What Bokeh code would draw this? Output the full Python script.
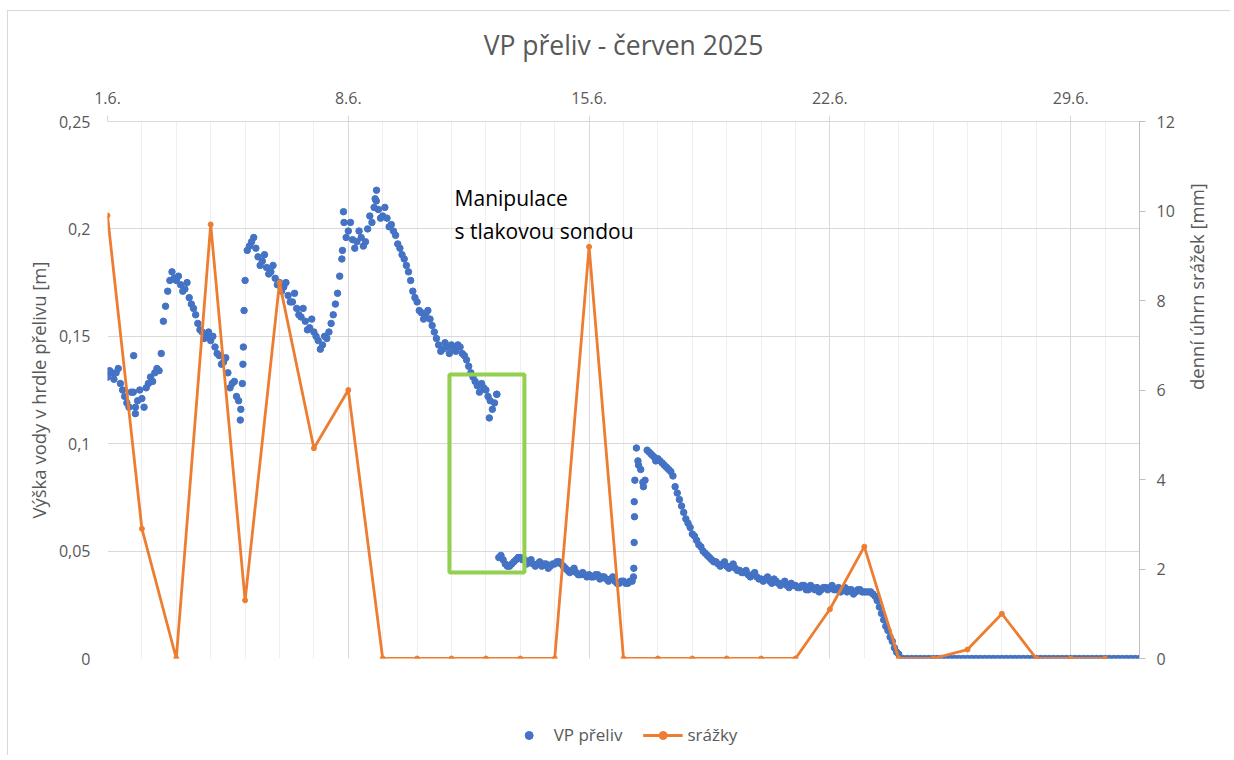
import math
from bokeh.plotting import figure
from bokeh.layouts import column
from bokeh.models import (Range1d, LinearAxis, FixedTicker, CustomJSTickFormatter,
                          Legend, LegendItem, BoxAnnotation, Label)
from bokeh.embed import file_html
from bokeh.resources import INLINE

# ---------------- data ----------------
# daily rainfall (mm), days 1..30 of June 2025
rain_days = list(range(1, 31))
rain_mm = [9.9, 2.9, 0.0, 9.7, 1.3, 8.4, 4.7, 6.0, 0.0, 0.0,
           0.0, 0.0, 0.0, 0.0, 9.2, 0.0, 0.0, 0.0, 0.0, 0.0,
           0.0, 1.1, 2.5, 0.0, 0.0, 0.2, 1.0, 0.0, 0.0, 0.0]

# water level in the weir throat (m), readings every 3 hours from 1.6. 00:00
vp_step_days = 0.125
vp_values = [
    0.131, 0.133, 0.133, 0.128, 0.122, 0.117, 0.124, 0.120,   # 1.6.
    0.121, 0.126, 0.131, 0.133, 0.134, 0.157, 0.171, 0.180,   # 2.6.
    0.176, 0.174, 0.172, 0.168, 0.163, 0.156, 0.152, 0.150,   # 3.6.
    0.148, 0.145, 0.141, 0.138, 0.133, 0.128, 0.122, 0.116,   # 4.6.
    0.176, 0.192, 0.196, 0.187, 0.185, 0.182, 0.180, 0.177,   # 5.6.
    0.175, 0.173, 0.169, 0.166, 0.163, 0.159, 0.157, 0.154,   # 6.6.
    0.152, 0.148, 0.146, 0.149, 0.156, 0.165, 0.178, 0.203,   # 7.6.
    0.199, 0.195, 0.194, 0.196, 0.194, 0.206, 0.210, 0.209,   # 8.6.
    0.206, 0.205, 0.202, 0.197, 0.191, 0.186, 0.180, 0.171,   # 9.6.
    0.166, 0.161, 0.160, 0.158, 0.152, 0.146, 0.144, 0.145,   # 10.6.
    0.146, 0.143, 0.145, 0.141, 0.136, 0.131, 0.127, 0.128,   # 11.6.
    0.125, 0.120, 0.119, 0.047, 0.046, 0.043, 0.044, 0.046,   # 12.6.
    0.047, 0.046, 0.045, 0.044, 0.044, 0.043, 0.044, 0.043,   # 13.6.
    0.044, 0.045, 0.043, 0.041, 0.041, 0.040, 0.039, 0.039,   # 14.6.
    0.039, 0.038, 0.039, 0.038, 0.037, 0.037, 0.036, 0.035,   # 15.6.
    0.036, 0.035, 0.036, 0.098, 0.088, 0.083, 0.096, 0.094,   # 16.6.
    0.093, 0.091, 0.089, 0.087, 0.080, 0.074, 0.068, 0.063,   # 17.6.
    0.058, 0.055, 0.052, 0.049, 0.047, 0.045, 0.044, 0.044,   # 18.6.
    0.043, 0.043, 0.042, 0.041, 0.040, 0.039, 0.039, 0.038,   # 19.6.
    0.037, 0.037, 0.036, 0.037, 0.035, 0.035, 0.034, 0.035,   # 20.6.
    0.034, 0.033, 0.034, 0.032, 0.033, 0.033, 0.032, 0.033,   # 21.6.
    0.033, 0.032, 0.033, 0.032, 0.031, 0.032, 0.031, 0.032,   # 22.6.
    0.031, 0.031, 0.030, 0.027, 0.021, 0.015, 0.010, 0.005,   # 23.6.
    0.002, 0.000, 0.000, 0.000, 0.000, 0.000, 0.000, 0.000,   # 24.6.
    0.000, 0.000, 0.000, 0.000, 0.000, 0.000, 0.000, 0.000,   # 25.6.
    0.000, 0.000, 0.000, 0.000, 0.000, 0.000, 0.000, 0.000,   # 26.6.
    0.000, 0.000, 0.000, 0.000, 0.000, 0.000, 0.000, 0.000,   # 27.6.
    0.000, 0.000, 0.000, 0.000, 0.000, 0.000, 0.000, 0.000,   # 28.6.
    0.000, 0.000, 0.000, 0.000, 0.000, 0.000, 0.000, 0.000,   # 29.6.
    0.000, 0.000, 0.000, 0.000, 0.000, 0.000, 0.000, 0.000,   # 30.6.
    0.000,                                                    # 1.7.
]
# interleaved readings (1 h 30 min after each of the above), 1.6. - 23.6.
vp_values_mid = [
    0.134, 0.130, 0.135, 0.125, 0.119, 0.124, 0.117, 0.125,   # 1.6.
    0.117, 0.128, 0.129, 0.135, 0.142, 0.164, 0.176, 0.177,   # 2.6.
    0.178, 0.171, 0.175, 0.165, 0.160, 0.153, 0.149, 0.152,   # 3.6.
    0.150, 0.142, 0.137, 0.140, 0.126, 0.129, 0.120, 0.137,   # 4.6.
    0.190, 0.194, 0.191, 0.183, 0.188, 0.179, 0.183, 0.174,   # 5.6.
    0.171, 0.175, 0.166, 0.170, 0.160, 0.163, 0.153, 0.158,   # 6.6.
    0.150, 0.144, 0.150, 0.152, 0.160, 0.170, 0.186, 0.196,   # 7.6.
    0.203, 0.191, 0.199, 0.192, 0.200, 0.203, 0.213, 0.205,   # 8.6.
    0.210, 0.201, 0.199, 0.193, 0.188, 0.183, 0.176, 0.168,   # 9.6.
    0.162, 0.158, 0.162, 0.155, 0.149, 0.143, 0.147, 0.142,   # 10.6.
    0.144, 0.146, 0.142, 0.139, 0.133, 0.129, 0.124, 0.126,   # 11.6.
    0.122, 0.116, 0.123, 0.048, 0.044, 0.043, 0.045, 0.047,   # 12.6.
    0.046, 0.044, 0.046, 0.043, 0.045, 0.044, 0.042, 0.044,   # 13.6.
    0.045, 0.044, 0.042, 0.040, 0.042, 0.039, 0.040, 0.038,   # 14.6.
    0.038, 0.039, 0.037, 0.038, 0.036, 0.038, 0.035, 0.036,   # 15.6.
    0.035, 0.036, 0.073, 0.090, 0.082, 0.097, 0.095, 0.092,   # 16.6.
    0.092, 0.090, 0.088, 0.085, 0.077, 0.071, 0.065, 0.061,   # 17.6.
    0.057, 0.053, 0.050, 0.048, 0.046, 0.045, 0.043, 0.045,   # 18.6.
    0.042, 0.044, 0.041, 0.040, 0.041, 0.038, 0.040, 0.037,   # 19.6.
    0.036, 0.038, 0.035, 0.036, 0.034, 0.036, 0.033, 0.034,   # 20.6.
    0.033, 0.034, 0.032, 0.034, 0.032, 0.031, 0.033, 0.032,   # 21.6.
    0.034, 0.032, 0.031, 0.033, 0.032, 0.030, 0.032, 0.031,   # 22.6.
    0.031, 0.031, 0.029, 0.024, 0.018, 0.013, 0.008, 0.003,   # 23.6.
]
# additional readings during fast changes (day of month, value)
vp_extra_day = [1.76, 1.81, 4.86, 4.92, 4.95, 4.97, 7.83, 7.86, 8.78, 8.82,
                12.10, 12.32, 16.29, 16.30, 16.31, 16.32, 16.33, 16.42, 16.58]
vp_extra_val = [0.141, 0.114, 0.111, 0.128, 0.145, 0.162, 0.190, 0.208, 0.214, 0.218,
                0.112, 0.123, 0.038, 0.042, 0.054, 0.066, 0.083, 0.092, 0.080]

x_ticks = [1, 8, 15, 22, 29]
left_ticks = [0, 0.05, 0.10, 0.15, 0.20, 0.25]
right_ticks = [0, 2, 4, 6, 8, 10, 12]

vp_days = [1 + i * vp_step_days for i in range(len(vp_values))]
vp_days_mid = [1 + vp_step_days / 2 + i * vp_step_days for i in range(len(vp_values_mid))]

# ---------------- style ----------------
FONT = "Open Sans"
GRAY = "#595959"
BLUE = "#4472C4"
ORANGE = "#ED7D31"
GRID = "#d9d9d9"

p = figure(width=1222, height=688, output_backend="svg", toolbar_location=None,
           x_range=Range1d(1, 31), y_range=Range1d(0, 0.25),
           x_axis_location="above",
           min_border_left=99, min_border_right=91, min_border_top=110, min_border_bottom=41)
p.outline_line_color = None
p.background_fill_color = "white"
p.border_fill_color = "white"

p.extra_y_ranges = {"rain": Range1d(0, 12)}

# top x axis (its axis label carries the chart title)
xa = p.xaxis[0]
xa.ticker = FixedTicker(ticks=x_ticks, minor_ticks=list(range(1, 32)))
xa.formatter = CustomJSTickFormatter(code="return tick + '.6.';")
xa.axis_line_color = GRID
xa.major_tick_line_color = GRID
xa.major_tick_out = 6
xa.major_tick_in = 0
xa.minor_tick_line_color = None
xa.major_label_text_font = FONT
xa.major_label_text_font_size = "16px"
xa.major_label_text_color = GRAY
xa.major_label_standoff = 12
xa.axis_label = "VP přeliv - červen 2025"
xa.axis_label_text_font = FONT
xa.axis_label_text_font_size = "26.5px"
xa.axis_label_text_font_style = "normal"
xa.axis_label_text_color = GRAY
xa.axis_label_standoff = 26

# left y axis
ya = p.yaxis[0]
ya.ticker = FixedTicker(ticks=left_ticks)
ya.formatter = CustomJSTickFormatter(
    code="return (Math.round(tick*100)/100).toString().replace('.', ',');")
ya.axis_line_color = None
ya.major_tick_line_color = None
ya.major_tick_out = 0
ya.major_tick_in = 0
ya.minor_tick_line_color = None
ya.major_label_text_font = FONT
ya.major_label_text_font_size = "16px"
ya.major_label_text_color = GRAY
ya.major_label_standoff = 17
ya.axis_label = "Výška vody v hrdle přelivu [m]"
ya.axis_label_text_font = FONT
ya.axis_label_text_font_size = "18.5px"
ya.axis_label_text_font_style = "normal"
ya.axis_label_text_color = GRAY
ya.axis_label_standoff = 5

# right y axis
ra = LinearAxis(y_range_name="rain", ticker=FixedTicker(ticks=right_ticks))
ra.axis_line_color = "#bfbfbf"
ra.major_tick_line_color = "#bfbfbf"
ra.major_tick_out = 6
ra.major_tick_in = 0
ra.minor_tick_line_color = None
ra.major_label_text_font = FONT
ra.major_label_text_font_size = "16px"
ra.major_label_text_color = GRAY
ra.major_label_standoff = 11
ra.axis_label = "denní úhrn srážek [mm]"
ra.axis_label_text_font = FONT
ra.axis_label_text_font_size = "18.5px"
ra.axis_label_text_font_style = "normal"
ra.axis_label_text_color = GRAY
ra.axis_label_standoff = 19
ra.axis_label_orientation = math.pi / 2
p.add_layout(ra, "right")

# grids
p.xgrid.grid_line_color = GRID
p.xgrid.minor_grid_line_color = "#efefef"
p.ygrid.grid_line_color = GRID

# data
p.scatter(vp_days, vp_values, size=6.5, marker="circle", fill_color=BLUE, line_color=BLUE)
p.scatter(vp_days_mid, vp_values_mid, size=6.5, marker="circle", fill_color=BLUE, line_color=BLUE)
p.scatter(vp_extra_day, vp_extra_val, size=6.5, marker="circle", fill_color=BLUE, line_color=BLUE)
p.line(rain_days, rain_mm, y_range_name="rain", line_color=ORANGE, line_width=2.8)
p.scatter(rain_days, rain_mm, y_range_name="rain", size=5, marker="circle",
          fill_color=ORANGE, line_color=ORANGE)

# annotation
box = BoxAnnotation(left=10.94, right=13.12, bottom=0.040, top=0.1322,
                    fill_alpha=0, line_color="#92d050", line_alpha=1, line_width=4)
p.add_layout(box)
p.add_layout(Label(x=11.09, y=0.2146, text="Manipulace", text_baseline="middle",
                   text_font=FONT, text_font_size="21px", text_color="black"))
p.add_layout(Label(x=11.09, y=0.1988, text="s tlakovou sondou", text_baseline="middle",
                   text_font=FONT, text_font_size="21px", text_color="black"))

# legend strip under the chart (legend-only renderers sit outside its empty frame)
lf = figure(width=1222, height=56, output_backend="svg", toolbar_location=None,
            x_range=Range1d(0, 1), y_range=Range1d(0, 1),
            x_axis_location=None, y_axis_location=None,
            min_border_left=28, min_border_right=0, min_border_top=0, min_border_bottom=0)
lf.grid.visible = False
lf.outline_line_color = None
lf.background_fill_color = "white"
lf.border_fill_color = "white"
l_vp = lf.scatter([5], [5], size=6.5, marker="circle", fill_color=BLUE, line_color=BLUE)
l_rl = lf.line([5, 6], [5, 5], line_color=ORANGE, line_width=2.8)
l_rp = lf.scatter([5], [5], size=5, marker="circle", fill_color=ORANGE, line_color=ORANGE)
legend = Legend(items=[LegendItem(label="VP přeliv", renderers=[l_vp]),
                       LegendItem(label="srážky", renderers=[l_rl, l_rp])],
                orientation="horizontal", location="bottom_center",
                border_line_color=None, background_fill_alpha=0,
                label_text_font=FONT, label_text_font_size="17px",
                label_text_color=GRAY, glyph_width=40, label_standoff=5,
                spacing=20, padding=5, margin=9)
lf.add_layout(legend)

layout = column(p, lf, spacing=0)
layout.styles = {"margin-left": "7px", "margin-top": "10px",
                 "border-left": "1px solid #d9d9d9", "border-top": "1px solid #d9d9d9"}

open("out.html", "w").write(file_html(layout, INLINE))
